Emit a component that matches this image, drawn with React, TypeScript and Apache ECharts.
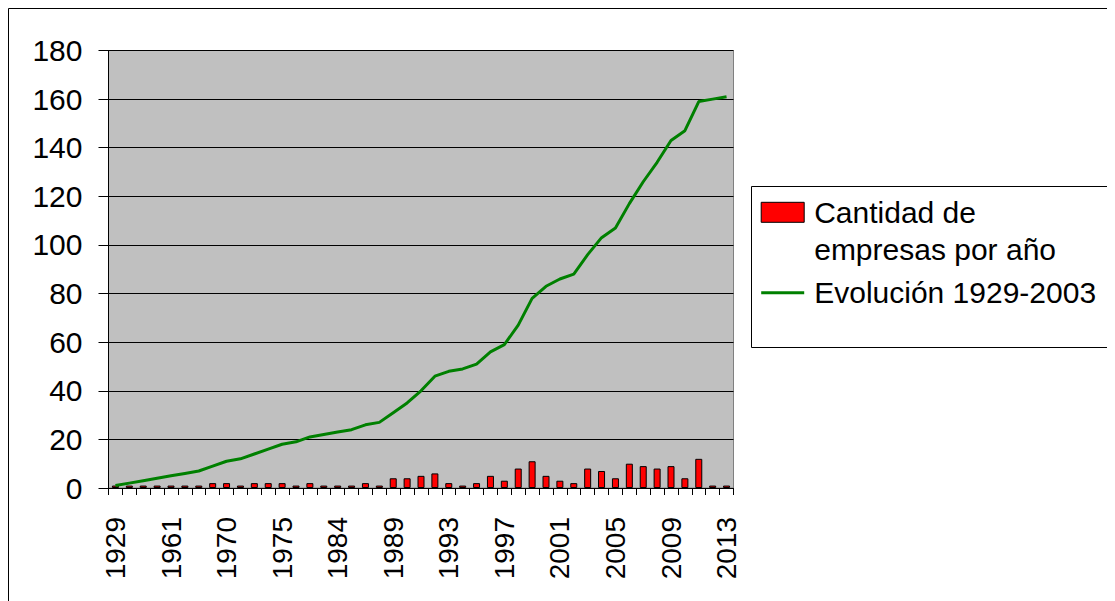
import React, { useEffect, useRef } from "react";
import * as echarts from "echarts";

const years = [
  "1929", "1940", "1950", "1955", "1961", "1963", "1966", "1968", "1970", "1971",
  "1972", "1974", "1975", "1977", "1980", "1982", "1984", "1985", "1986", "1988",
  "1989", "1990", "1991", "1992", "1993", "1994", "1995", "1996", "1997", "1998",
  "1999", "2000", "2001", "2002", "2003", "2004", "2005", "2006", "2007", "2008",
  "2009", "2010", "2011", "2012", "2013",
];

const empresasPorAnio = [
  1, 1, 1, 1, 1, 1, 1, 2, 2, 1, 2, 2, 2, 1, 2, 1, 1, 1, 2, 1, 4, 4, 5, 6, 2, 1, 2, 5, 3, 8,
  11, 5, 3, 2, 8, 7, 4, 10, 9, 8, 9, 4, 12, 1, 1,
];

const evolucion = [
  1, 2, 3, 4, 5, 6, 7, 9, 11, 12, 14, 16, 18, 19, 21, 22, 23, 24, 26, 27, 31, 35, 40, 46, 48,
  49, 51, 56, 59, 67, 78, 83, 86, 88, 96, 103, 107, 117, 126, 134, 143, 147, 159, 160, 161,
];

const serieBarras = "Cantidad de empresas por año";
const serieLinea = "Evolución 1929-2003";

const FONT = "Liberation Sans, Arial, sans-serif";

export default function App() {
  const ref = useRef<HTMLDivElement>(null);
  useEffect(() => {
    if (!ref.current) return;
    const chart = echarts.init(ref.current, undefined, { renderer: "svg" });
    chart.setOption({
      animation: false,
      backgroundColor: "#ffffff",
      textStyle: { fontFamily: FONT },
      graphic: [
        {
          type: "rect",
          shape: { x: 0.5, y: 0.5, width: 2000, height: 2000 },
          style: { fill: "none", stroke: "#000", lineWidth: 1 },
          z: -10,
          silent: true,
        },
        {
          type: "rect",
          shape: { x: 743.5, y: 178.5, width: 1000, height: 161 },
          style: { fill: "#fff", stroke: "#000", lineWidth: 1 },
          z: -5,
          silent: true,
        },
      ],
      grid: {
        left: 100.5,
        top: 42.5,
        width: 625,
        height: 437.5,
        show: true,
        backgroundColor: "#C0C0C0",
        borderColor: "#808080",
        borderWidth: 1,
      },
      legend: {
        orient: "vertical",
        left: 752.7,
        top: 148.8,
        padding: 0,
        itemWidth: 43,
        itemHeight: 20,
        itemGap: 6.5,
        symbolKeepAspect: true,
        textStyle: { fontSize: 30, color: "#000", fontFamily: FONT, lineHeight: 37, padding: [0, 0, 0, 5] },
        formatter: (name: string) =>
          name === serieBarras ? "\nCantidad de\nempresas por año" : name,
        data: [
          {
            name: serieBarras,
            icon: "rect",
            itemStyle: { color: "#FF0000", borderColor: "#000", borderWidth: 1 },
          },
          {
            name: serieLinea,
            icon: "path://M0,0H43V3H0Z",
            itemStyle: { color: "#008000", borderWidth: 0 },
          },
        ],
      },
      xAxis: {
        type: "category",
        data: years,
        boundaryGap: true,
        axisLine: { lineStyle: { color: "#000", width: 1 } },
        axisTick: { show: true, interval: 0, length: 7, lineStyle: { color: "#000" } },
        axisLabel: {
          interval: 3,
          rotate: 90,
          fontSize: 28,
          color: "#000",
          fontFamily: FONT,
          margin: 29,
        },
        splitLine: { show: false },
      },
      yAxis: {
        type: "value",
        min: 0,
        max: 180,
        interval: 20,
        axisLine: { show: true, lineStyle: { color: "#000", width: 1 } },
        axisTick: { show: true, length: 10, lineStyle: { color: "#000" } },
        axisLabel: { fontSize: 30, color: "#000", fontFamily: FONT, margin: 26 },
        splitLine: { show: true, lineStyle: { color: "#000", width: 1 } },
      },
      series: [
        {
          name: serieBarras,
          type: "bar",
          data: empresasPorAnio,
          barWidth: 7,
          itemStyle: { color: "#FF0000", borderColor: "#000", borderWidth: 1 },
          z: 2,
        },
        {
          name: serieLinea,
          type: "line",
          data: evolucion,
          symbol: "none",
          showSymbol: false,
          lineStyle: { color: "#008000", width: 3 },
          itemStyle: { color: "#008000" },
          z: 3,
        },
      ],
    });
    return () => chart.dispose();
  }, []);
  return <div ref={ref} style={{ width: 1107, height: 593 }} />;
}
